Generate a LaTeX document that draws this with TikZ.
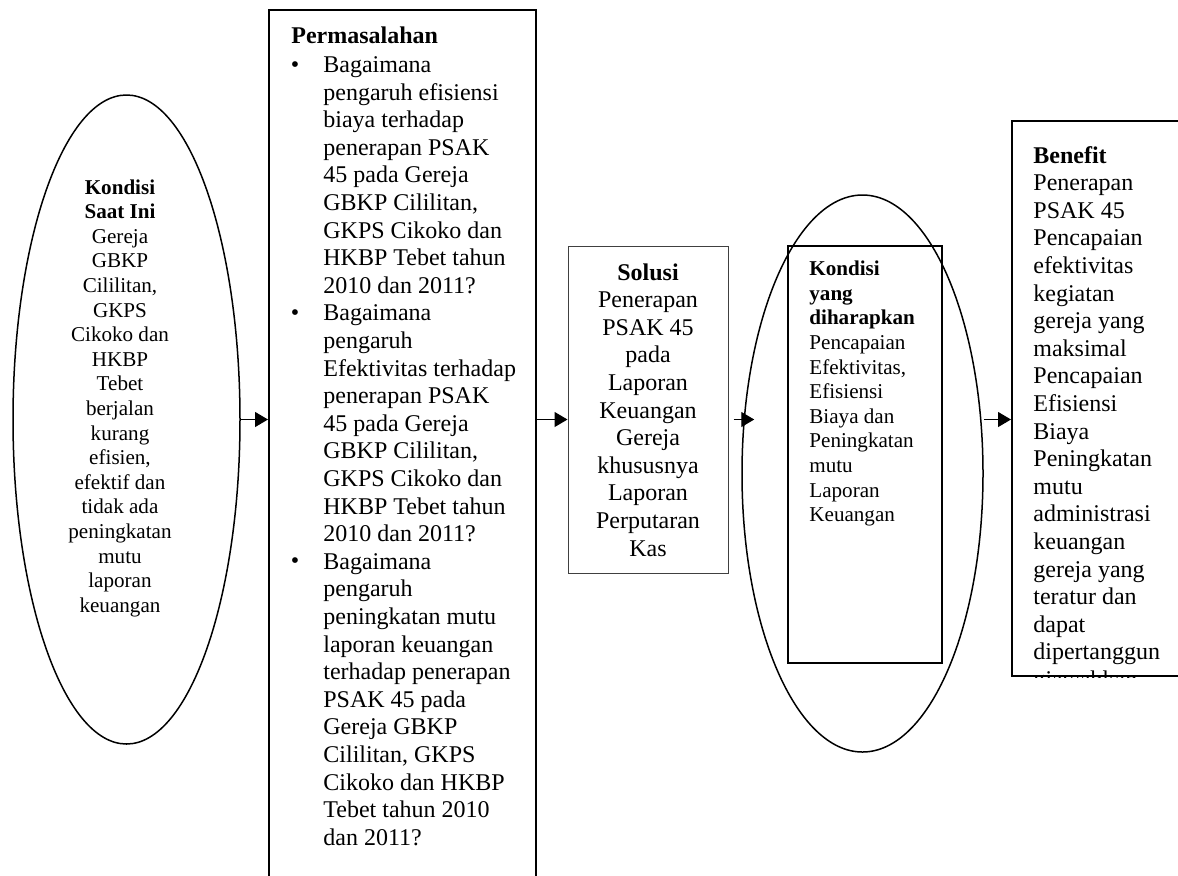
\documentclass[tikz,border=0pt]{standalone}
\usepackage{fontspec}
\setmainfont{Liberation Serif}
\usepackage{tikz}
\usetikzlibrary{shapes}
\usetikzlibrary{arrows.meta}

\newcommand{\hurufbesar}{\fontsize{12}{13.8}\selectfont}
\newcommand{\hurufkecil}{\fontsize{10.55}{12.3}\selectfont}

\begin{document}
\begin{tikzpicture}[x=0.5pt, y=-0.5pt,
        kotak/.style={draw, line width=1pt, rectangle, inner sep=0pt},
        lonjong/.style={draw, line width=0.75pt, ellipse, inner sep=0pt},
        panah/.style={line width=0.6pt, -{Triangle[length=6.5pt, width=7.5pt]}},
        teks/.style={inner sep=0pt, font=\hurufbesar}]

        % Bingkai
        \clip (0,0) rectangle (1178,875);

        % Kondisi saat ini
        \node[lonjong, minimum width=113.5pt, minimum height=324.5pt] (kini) at (126.5,419.5) {};
        \node[teks, font=\hurufkecil, align=center, anchor=north] (kiniteks) at (120,179) {\textbf{Kondisi}\\ \textbf{Saat Ini}\\ Gereja\\ GBKP\\ Cililitan,\\ GKPS\\ Cikoko dan\\ HKBP\\ Tebet\\ berjalan\\ kurang\\ efisien,\\ efektif dan\\ tidak ada\\ peningkatan\\ mutu\\ laporan\\ keuangan};

        % Permasalahan
        \node[kotak, minimum width=133.5pt, minimum height=445pt] (masalah) at (402.5,455) {};
        \node[teks, anchor=north west] (judulmasalah) at (291,26.7) {\textbf{Permasalahan}};
        \node[teks, align=left, anchor=north west] (butir1) at (323,56.2) {Bagaimana\\ pengaruh efisiensi\\ biaya terhadap\\ penerapan PSAK\\ 45 pada Gereja\\ GBKP Cililitan,\\ GKPS Cikoko dan\\ HKBP Tebet tahun\\ 2010 dan 2011?};
        \node[teks, align=left, anchor=north west] (butir2) at (323,304.6) {Bagaimana\\ pengaruh\\ Efektivitas terhadap\\ penerapan PSAK\\ 45 pada Gereja\\ GBKP Cililitan,\\ GKPS Cikoko dan\\ HKBP Tebet tahun\\ 2010 dan 2011?};
        \node[teks, align=left, anchor=north west] (butir3) at (323,553) {Bagaimana\\ pengaruh\\ peningkatan mutu\\ laporan keuangan\\ terhadap penerapan\\ PSAK 45 pada\\ Gereja GBKP\\ Cililitan, GKPS\\ Cikoko dan HKBP\\ Tebet tahun 2010\\ dan 2011?};
        \node[teks, anchor=base] (titik1) at (295,72) {\textbullet};
        \node[teks, anchor=base] (titik2) at (295,320.4) {\textbullet};
        \node[teks, anchor=base] (titik3) at (295,568.8) {\textbullet};

        % Solusi
        \node[draw=black!75, line width=0.5pt, rectangle, inner sep=0pt, minimum width=80pt, minimum height=163.5pt] (solusi) at (648,409.5) {};
        \node[teks, align=center, anchor=north] (solusiteks) at (648,263) {\textbf{Solusi}\\ Penerapan\\ PSAK 45\\ pada\\ Laporan\\ Keuangan\\ Gereja\\ khususnya\\ Laporan\\ Perputaran\\ Kas};

        % Kondisi yang diharapkan
        \node[lonjong, minimum width=120.5pt, minimum height=278.5pt] (harap) at (862.5,473.5) {};
        \node[kotak, minimum width=77pt, minimum height=208.5pt] (harapkotak) at (865,454.5) {};
        \node[teks, font=\hurufkecil, align=left, anchor=north west] (harapteks) at (809,260.6) {\textbf{Kondisi}\\ \textbf{yang}\\ \textbf{diharapkan}\\ Pencapaian\\ Efektivitas,\\ Efisiensi\\ Biaya dan\\ Peningkatan\\ mutu\\ Laporan\\ Keuangan};

        % Benefit
        \node[kotak, minimum width=94pt, minimum height=277.5pt] (benefit) at (1106,398.5) {};
        \begin{scope}
            \clip (benefit.south west) rectangle (benefit.north east);
            \node[teks, align=left, anchor=north west] (benefitteks) at (1033,145.7) {\textbf{Benefit}\\ Penerapan\\ PSAK 45\\ Pencapaian\\ efektivitas\\ kegiatan\\ gereja yang\\ maksimal\\ Pencapaian\\ Efisiensi\\ Biaya\\ Peningkatan\\ mutu\\ administrasi\\ keuangan\\ gereja yang\\ teratur dan\\ dapat\\ dipertanggun\\ gjawabkan};
        \end{scope}

        % Panah
        \draw[panah] (kini.east) -- (kini.east -| masalah.west);
        \draw[panah] (kini.east -| masalah.east) -- (kini.east -| solusi.west);
        \draw[panah] ([xshift=2.5pt]kini.east -| solusi.east) -- ([xshift=6.5pt]kini.east -| harap.west);
        \draw[panah] (kini.east -| harap.east) -- (kini.east -| benefit.west);
\end{tikzpicture}
\end{document}
